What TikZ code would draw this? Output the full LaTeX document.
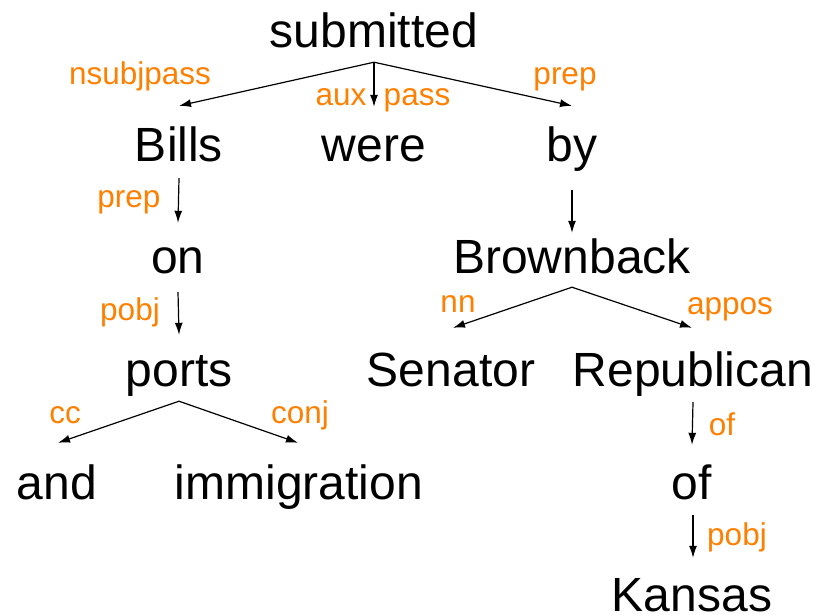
\documentclass[tikz,border=0pt]{standalone}
\usepackage{fontspec}
\setmainfont{Liberation Sans}
\usetikzlibrary{arrows.meta}
\definecolor{deplabel}{RGB}{255,128,0}
\begin{document}
\begin{tikzpicture}[x=1pt,y=-1pt,
  word/.style={anchor=base,inner sep=0pt,text height=36pt,text depth=10pt,
    font=\fontsize{48}{56}\selectfont},
  rel/.style={anchor=base,inner sep=0pt,text=deplabel,
    font=\fontsize{31.5}{36}\selectfont},
  dep/.style={line width=1.2pt,-{Latex[length=12pt,width=8pt]}}]
\useasboundingbox (0,0) rectangle (826,614);

% words of the sentence, placed by baseline
\node[word] (sub)  at (374,47)  {submitted};
\node[word] (bills) at (179,161) {Bills};
\node[word] (were) at (374,161) {were};
\node[word] (by)   at (572,161) {by};
\node[word] (on)   at (178,273) {on};
\node[word] (brown) at (572,273) {Brownback};
\node[word] (ports) at (179,386) {ports};
\node[word] (sen)  at (451,386) {Senator};
\node[word] (rep)  at (693,386) {Republican};
\node[word] (and)  at (57,499)  {and};
\node[word] (imm)  at (299,499) {immigration};
\node[word] (of)   at (692,499) {of};
\node[word] (kan)  at (692,611) {Kansas};

% dependency arcs
\draw[dep] ([yshift=-5pt]sub.south) -- ([yshift=19pt]bills.north);
\draw[dep] ([yshift=-5pt]sub.south) -- ([yshift=18pt]were.north);
\draw[dep] ([yshift=-5pt]sub.south) -- ([yshift=19pt]by.north);
\draw[dep] ([yshift=-7pt]bills.south) -- ([yshift=14pt]on.north);
\draw[dep] ([yshift=-9pt]on.south) -- ([yshift=15pt]ports.north);
\draw[dep] ([yshift=-19pt]by.south) -- ([yshift=4pt]brown.north);
\draw[dep] ([yshift=-4pt]brown.south) -- ([xshift=2pt,yshift=22pt]sen.north);
\draw[dep] ([yshift=-4pt]brown.south) -- ([xshift=-1pt,yshift=22pt]rep.north);
\draw[dep] ([yshift=-5pt]ports.south) -- ([xshift=1pt,yshift=20pt]and.north);
\draw[dep] ([yshift=-5pt]ports.south) -- ([xshift=-1pt,yshift=20pt]imm.north);
\draw[dep] ([yshift=-6pt]rep.south) -- ([yshift=18pt]of.north);
\draw[dep] ([xshift=1pt,yshift=-6pt]of.south) -- ([xshift=1pt,yshift=17pt]kan.north);

% relation labels
\node[rel] (l1)  at (140,84)  {nsubjpass};
\node[rel] (l2)  at (341,105) {aux};
\node[rel] (l3)  at (417,105) {pass};
\node[rel] (l4)  at (565,84)  {prep};
\node[rel] (l5)  at (129,207) {prep};
\node[rel] (l6)  at (130,320) {pobj};
\node[rel] (l7)  at (458,312) {nn};
\node[rel] (l8)  at (730,314) {appos};
\node[rel] (l9)  at (65,423)  {cc};
\node[rel] (l10) at (300,423) {conj};
\node[rel] (l11) at (722,435) {of};
\node[rel] (l12) at (737,545) {pobj};
\end{tikzpicture}
\end{document}
